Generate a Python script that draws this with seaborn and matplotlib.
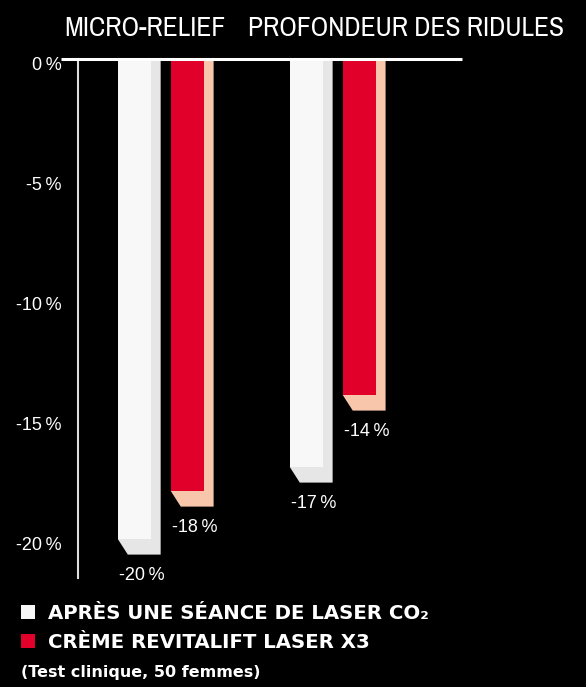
import matplotlib
matplotlib.use("Agg")
import matplotlib.pyplot as plt
import seaborn as sns
import pandas as pd
from matplotlib.patches import Polygon, Patch
from matplotlib import font_manager as fm
from matplotlib import transforms as mtrans

# ---- data ----
categories = ["MICRO-RELIEF", "PROFONDEUR DES RIDULES"]
series = ["APRÈS UNE SÉANCE DE LASER CO\u2082", "CRÈME REVITALIFT LASER X3"]
laser_values = [-20, -17]
creme_values = [-18, -14]
yticks = [0, -5, -10, -15, -20]
ytick_labels = ["0\u2009%", "-5\u2009%", "-10\u2009%", "-15\u2009%", "-20\u2009%"]
note = "(Test clinique, 50 femmes)"

front_colors = ["#f8f8f8", "#e0002a"]
side_colors = ["#e6e6e6", "#f8c6aa"]

df = pd.DataFrame({
    "cat": categories * 2,
    "serie": [series[0]] * 2 + [series[1]] * 2,
    "val": laser_values + creme_values,
})

sns.set_theme(style="white")
plt.rcParams["font.family"] = ["Liberation Sans", "DejaVu Sans"]


def pick_condensed_font():
    best, best_score = None, None
    for f in fm.fontManager.ttflist:
        nm = f.name.lower()
        st = str(f.stretch).lower()
        if f.style != "normal":
            continue
        cond = ("narrow" in nm or "condensed" in nm or
                st in ("condensed", "semi-condensed", "extra-condensed"))
        if not cond:
            continue
        try:
            w = int(f.weight)
        except Exception:
            w = {"normal": 400, "regular": 400, "medium": 500, "book": 400,
                 "bold": 700, "light": 300}.get(str(f.weight).lower(), 400)
        score = abs(w - 450)
        if "narrow" in nm:
            score -= 1000
        if "extra" in st or "ultra" in st:
            score += 300
        if best_score is None or score < best_score:
            best, best_score = f, score
    if best is None:
        return fm.FontProperties(family="Liberation Sans")
    return fm.FontProperties(fname=best.fname)


W, H = 586, 687
fig = plt.figure(figsize=(W / 100, H / 100), dpi=100, facecolor="black")
ax = fig.add_axes([78 / W, (H - 578) / H, 384 / W, 519 / H])
ax.set_facecolor("black")

sns.barplot(data=df, x="cat", y="val", hue="serie", hue_order=series,
            order=categories, palette=front_colors, width=0.616, gap=0.38,
            dodge=True, errorbar=None, saturation=1, linewidth=0,
            legend=False, ax=ax, zorder=3)

ax.set_xlim(-0.481, 1.752)
ax.set_ylim(-21.625, 0)

# 3D side/bottom faces + value labels
dx = 10 / 172.0
dy = 0.65
for i, cont in enumerate(ax.containers):
    for bar, v in zip(cont.patches, cont.datavalues):
        x0 = bar.get_x()
        x1 = x0 + bar.get_width()
        b = v
        poly = Polygon([(x0, b), (x0 + dx, b - dy), (x1 + dx, b - dy),
                        (x1 + dx, 0), (x1, 0), (x1, b)],
                       closed=True, facecolor=side_colors[i], edgecolor="none",
                       zorder=2.5)
        ax.add_patch(poly)
        ax.text((x0 + x1 + dx) / 2 + 0.015, b - dy - 0.875, f"{int(v)}\u2009%",
                ha="center", va="center", color="white", fontsize=13,
                zorder=5)

# axes styling
for s in ["top", "right", "bottom"]:
    ax.spines[s].set_visible(False)
ax.spines["left"].set_color("#dddddd")
ax.spines["left"].set_linewidth(1.5)
ax.set_xticks([])
ax.set_xlabel("")
ax.set_ylabel("")
ax.set_yticks(yticks, labels=ytick_labels)
ax.tick_params(axis="y", length=0, pad=12, labelsize=13, labelcolor="white")
shift = mtrans.ScaledTranslation(0, -4 / 100, fig.dpi_scale_trans)
for lab in ax.get_yticklabels():
    lab.set_transform(lab.get_transform() + shift)
ax.plot([-17 / 384, 1], [1, 1], transform=ax.transAxes, color="white",
        lw=2.2, clip_on=False, zorder=6, solid_capstyle="butt")

# group titles (condensed font, sized to the reference widths)
tfp = pick_condensed_font()
t1 = fig.text(64 / W, 1 - 29 / H, categories[0], ha="left", va="center",
              color="white", fontproperties=tfp, fontsize=21)
t2 = fig.text(564 / W, 1 - 29 / H, categories[1], ha="right", va="center",
              color="white", fontproperties=tfp, fontsize=21)
fig.canvas.draw()
r = fig.canvas.get_renderer()
wsum = t1.get_window_extent(r).width + t2.get_window_extent(r).width
size = 21 * (164 + 313) / wsum
size = min(size, 22)
t1.set_fontsize(size)
t2.set_fontsize(size)

# legend
handles = [Patch(facecolor=c, edgecolor="none") for c in front_colors]
leg = fig.legend(handles, series, loc="upper left",
                 bbox_to_anchor=(21 / W, 1 - 604 / H),
                 frameon=False, borderpad=0, borderaxespad=0,
                 handlelength=0.72, handleheight=0.72, handletextpad=0.67,
                 labelspacing=0.5,
                 prop=dict(family=["DejaVu Sans"], weight="bold", size=14.2),
                 labelcolor="white")
fig.text(21 / W, 1 - 673 / H, note, ha="left", va="center", color="white",
         fontsize=11.5, fontweight="bold", family=["DejaVu Sans"])

fig.savefig("out.png", dpi=100, facecolor="black")
